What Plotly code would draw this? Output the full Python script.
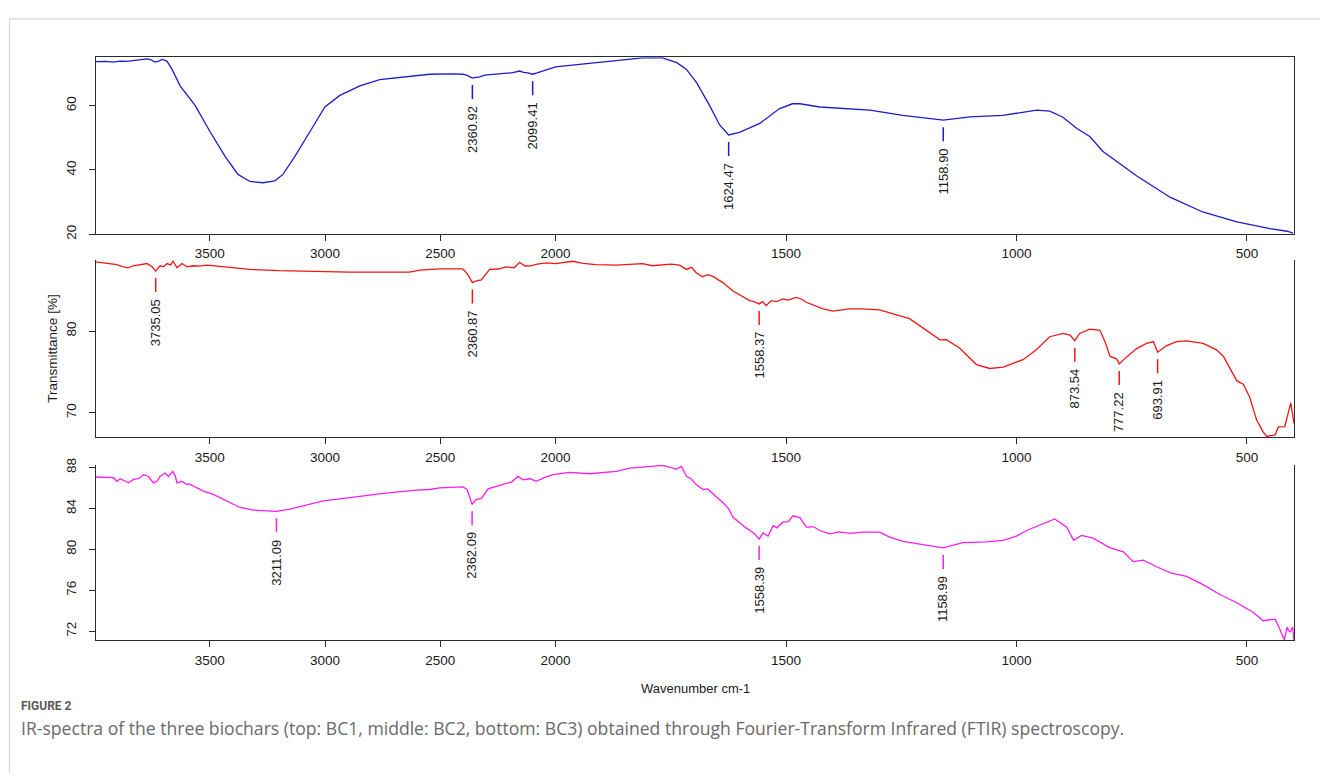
import numpy as np
import plotly.graph_objects as go

W, H = 1320, 778

# ---------------- spectra: wavenumber (cm-1) and transmittance (%) ----------------
bc1_wn = [3994, 3950, 3920, 3889, 3860, 3830, 3802, 3772, 3755, 3738, 3722, 3707, 3686,
          3664, 3629, 3600, 3564, 3499, 3434, 3378, 3326, 3270, 3218, 3183, 3131, 3066,
          3001, 2936, 2849, 2763, 2633, 2546, 2450, 2403, 2386, 2360.92, 2345, 2329, 2308,
          2250, 2186, 2156, 2139, 2120, 2099.41, 2080, 2056, 2000, 1948, 1876, 1811, 1768,
          1737, 1716, 1694, 1666, 1644, 1624.47, 1601, 1557, 1535, 1514, 1486, 1470, 1427,
          1368, 1318, 1247, 1158.90, 1101, 1030, 956, 928, 900, 869, 841, 813, 739, 667,
          596, 522, 450, 430, 413, 400]
bc1_t = [73.7, 73.8, 73.6, 73.9, 73.8, 74.1, 74.4, 74.6, 74.3, 73.6, 73.9, 74.4, 73.9,
         71.3, 66.2, 63.5, 60.1, 51.9, 44.2, 38.6, 36.4, 36.0, 36.6, 38.6, 44.2, 51.9,
         59.6, 63.2, 66.2, 68.1, 69.0, 69.8, 69.9, 69.8, 69.5, 68.6, 68.8, 69.0, 69.5,
         69.9, 70.3, 70.8, 70.4, 70.2, 69.8, 70.2, 70.8, 72.1, 72.9, 73.9, 74.9, 74.9,
         73.4, 71.3, 67.2, 60.1, 54.0, 50.9, 51.7, 54.5, 56.8, 59.1, 60.6, 60.6, 59.6,
         59.1, 58.6, 57.0, 55.5, 56.5, 57.0, 58.6, 58.3, 56.5, 52.9, 50.4, 45.8, 38.1, 31.5,
         26.9, 23.8, 21.7, 21.2, 20.9, 20.3]
bc1_peaks = [2360.92, 2099.41, 1624.47, 1158.90]

bc2_wn = [3994, 3950, 3904, 3880, 3855, 3833, 3803, 3772, 3751, 3735.05, 3716, 3700, 3686,
          3670, 3660, 3642, 3621, 3599, 3573, 3545, 3512, 3426, 3326, 3200, 3109, 2893,
          2676, 2633, 2589, 2503, 2403, 2381, 2360.87, 2344, 2322, 2286, 2250, 2214, 2180,
          2156, 2135, 2113, 2080, 2040, 2000, 1963, 1940, 1912, 1868, 1840, 1811, 1790,
          1768, 1750, 1731, 1716, 1705, 1695, 1681, 1670, 1659, 1648, 1637, 1616, 1579,
          1570, 1558.37, 1551, 1543, 1532, 1520, 1507, 1495, 1478, 1466, 1456, 1420, 1399,
          1380, 1362, 1334, 1297, 1232, 1203, 1166, 1152, 1123, 1087, 1058, 1029, 986, 957,
          928, 899, 884, 873.54, 863, 841, 819, 808, 797, 783, 777.22, 761, 740, 718, 703,
          693.91, 674, 653, 631, 595, 566, 551, 537, 522, 508, 494, 479, 465, 457, 445, 439,
          432, 418, 405, 398]
bc2_t = [88.47, 88.3, 88.15, 87.9, 87.75, 88.0, 88.15, 88.27, 87.87, 87.35, 88.0, 87.9, 88.27,
         88.1, 88.55, 87.75, 88.27, 87.87, 88.0, 87.95, 88.07, 87.87, 87.55, 87.4, 87.35, 87.23,
         87.23, 87.23, 87.47, 87.63, 87.63, 86.94, 85.94, 86.14, 86.27, 87.55, 87.6, 87.87, 87.75,
         88.43, 88.0, 87.95, 88.2, 88.35, 88.25, 88.55, 88.3, 88.15, 88.07, 88.2, 88.27, 88.0,
         88.07, 88.2, 88.07, 87.55, 87.8, 87.15, 86.66, 86.9, 86.7, 86.3, 85.94, 84.94, 83.73,
         83.6, 83.33, 83.61, 83.13, 83.73, 83.6, 83.93, 83.8, 84.13, 83.9, 83.53, 82.72, 82.45,
         82.6, 82.72, 82.72, 82.6, 81.52, 80.4, 78.92, 78.95, 77.9, 75.9, 75.42, 75.58, 76.5, 77.71,
         79.31, 79.71, 79.5, 78.83, 79.71, 80.24, 80.1, 78.71, 76.9, 76.6, 75.98, 76.84, 77.83, 78.5, 78.71,
         77.42, 78.23, 78.71, 78.8, 78.5, 77.7, 76.9, 75.5, 73.9, 73.5, 71.9, 69.1, 67.66, 67.1, 67.2, 67.3,
         68.26, 68.3, 71.2, 68.7]
bc2_peaks = [3735.05, 2360.87, 1558.37, 873.54, 777.22, 693.91]

bc3_wn = [3994, 3950, 3918, 3903, 3889, 3870, 3853, 3831, 3810, 3788, 3766, 3745, 3730,
          3716, 3694, 3680, 3661, 3650, 3643, 3622, 3600, 3590, 3571, 3550, 3528, 3485,
          3427, 3369, 3311, 3253, 3211.09, 3152, 3109, 3008, 2892, 2748, 2603, 2546, 2503,
          2402, 2384, 2362.09, 2344, 2322, 2293, 2250, 2214, 2190, 2163, 2142, 2110, 2084,
          2050, 2012, 1970, 1926, 1868, 1839, 1810, 1767, 1738, 1727, 1716, 1706, 1695,
          1680, 1670, 1658, 1648, 1637, 1625, 1615, 1586, 1568, 1558.39, 1550, 1539, 1528,
          1520, 1507, 1495, 1485, 1470, 1456, 1440, 1427, 1405, 1385, 1362, 1333, 1297,
          1275, 1246, 1203, 1158.99, 1116, 1065, 1029, 1000, 978, 942, 917, 891, 876, 859,
          834, 797, 768, 747, 725, 689, 664, 631, 595, 559, 522, 486, 465, 439, 432, 419,
          413, 407, 401, 398]
bc3_t = [87.07, 87.05, 87.0, 86.65, 86.9, 86.7, 86.5, 86.84, 86.9, 87.3, 87.12, 86.5, 86.65,
         87.12, 87.46, 87.12, 87.62, 87.2, 86.5, 86.65, 86.33, 86.4, 86.2, 86.0, 85.69, 85.37,
         84.73, 84.09, 83.83, 83.76, 83.72, 83.93, 84.19, 84.73, 85.05, 85.47, 85.79, 85.85, 86.0,
         86.11, 85.85, 84.41, 84.89, 84.95, 85.92, 86.2, 86.5, 86.6, 87.13, 86.8, 86.9, 86.65,
         87.0, 87.3, 87.52, 87.39, 87.62, 87.94, 88.04, 88.2, 87.85, 88.1, 87.13, 86.9, 86.33,
         85.85, 85.9, 85.37, 85.0, 84.57, 84.0, 83.13, 82.07, 81.52, 81.0, 81.6, 81.3, 82.32,
         82.1, 82.65, 82.7, 83.28, 83.1, 82.17, 82.2, 81.84, 81.52, 81.7, 81.55, 81.68, 81.68,
         81.2, 80.78, 80.46, 80.14, 80.66, 80.72, 80.88, 81.3, 81.84, 82.48, 82.97, 82.17, 80.88, 81.36,
         81.1, 80.14, 79.76, 78.8, 78.95, 78.15, 77.67, 77.35, 76.55, 75.58, 74.78, 73.82, 73.02, 73.18, 72.54, 71.16,
         72.38, 71.9, 72.38, 71.1]
bc3_peaks = [3211.09, 2362.09, 1558.39, 1158.99]

x_ticks = [3500, 3000, 2500, 2000, 1500, 1000, 500]
wn_span = [3994, 398]


def axis_pos(w):
    """Wavenumber axis with the usual FTIR scale change: 2x expansion below 2000 cm-1."""
    w = np.asarray(w, dtype=float)
    return np.where(w >= 2000, (4000.0 - w) / 2.0, 1000.0 + (2000.0 - w))


FONT = "Liberation Sans, Arial, sans-serif"
AXIS_COLOR = "#2a2a2a"
X_DOMAIN = [96 / W, 1294 / W]

panels = [
    dict(wn=bc1_wn, t=bc1_t, peaks=bc1_peaks, color="#1c1cd2",
         yrange=[20.0, 75.1], yticks=[20, 40, 60], top=51, bottom=230.7, boxed=True),
    dict(wn=bc2_wn, t=bc2_t, peaks=bc2_peaks, color="#f01616",
         yrange=[67.0, 88.7], yticks=[70, 80], top=257, bottom=437, boxed=False),
    dict(wn=bc3_wn, t=bc3_t, peaks=bc3_peaks, color="#fb1cf0",
         yrange=[71.1, 88.26], yticks=[72, 76, 80, 84, 88], top=465, bottom=643.3, boxed=False),
]

fig = go.Figure()
shapes, annotations = [], []
layout_axes = {}

for i, p in enumerate(panels):
    sfx = "" if i == 0 else str(i + 1)
    xa, ya = "x" + sfx, "y" + sfx
    wn = np.asarray(p["wn"], dtype=float)
    tr = np.asarray(p["t"], dtype=float)

    fig.add_trace(go.Scatter(
        x=axis_pos(wn), y=tr, mode="lines", xaxis=xa, yaxis=ya,
        line=dict(color=p["color"], width=1.3), showlegend=False, hoverinfo="skip"))

    layout_axes["xaxis" + sfx] = dict(
        domain=X_DOMAIN, anchor=ya, range=list(axis_pos(wn_span)),
        tickmode="array", tickvals=list(axis_pos(x_ticks)), ticktext=[str(v) for v in x_ticks],
        ticks="outside", ticklen=6, tickwidth=1, tickcolor=AXIS_COLOR,
        showline=True, linecolor=AXIS_COLOR, linewidth=1.2, mirror=p["boxed"],
        showgrid=False, zeroline=False, ticklabelstandoff=1,
        tickfont=dict(family=FONT, size=13.5, color="#1a1a1a"))
    layout_axes["yaxis" + sfx] = dict(
        domain=[1 - p["bottom"] / H, 1 - p["top"] / H], anchor=xa, range=p["yrange"],
        tickmode="array", tickvals=p["yticks"],
        ticks="outside", ticklen=6, tickwidth=1, tickcolor=AXIS_COLOR,
        showline=True, linecolor=AXIS_COLOR, linewidth=1.2, mirror=True,
        showgrid=False, zeroline=False, tickangle=-90, ticklabelstandoff=8,
        tickfont=dict(family=FONT, size=13.5, color="#1a1a1a"))

    # peak markers: short coloured tick under the band, rotated wavenumber label below it
    asc_w, asc_t = wn[::-1], tr[::-1]
    for w in p["peaks"]:
        xp = float(axis_pos(w))
        yv = float(np.interp(w, asc_w, asc_t))
        shapes.append(dict(type="line", xref=xa, yref=ya, x0=xp, x1=xp,
                           ysizemode="pixel", yanchor=yv, y0=-7, y1=-21,
                           line=dict(color=p["color"], width=1.5)))
        annotations.append(dict(x=xp, y=yv, xref=xa, yref=ya, text=f"{w:.2f}",
                                textangle=-90, showarrow=False, xanchor="center",
                                yanchor="top", yshift=-26,
                                font=dict(family=FONT, size=13, color="#1a1a1a")))


def paper_text(px, py, text, font, xanchor="center", angle=0):
    """Text placed at a pixel position of the figure, centred vertically."""
    return dict(x=px / W, y=1 - py / H, xref="paper", yref="paper", text=text,
                showarrow=False, xanchor=xanchor, yanchor="middle", textangle=angle,
                font=font)


# axis titles
annotations.append(paper_text(53, 347, "Transmittance [%]",
                              dict(family=FONT, size=13.5, color="#1a1a1a"), angle=-90))
annotations.append(paper_text(695, 692, "Wavenumber cm-1",
                              dict(family=FONT, size=13, color="#1a1a1a")))

# figure caption
annotations.append(paper_text(19, 710, "<b>FIGURE 2</b>",
                              dict(family="Roboto, sans-serif", size=12, color="#5a5a5a"),
                              xanchor="left"))
annotations.append(paper_text(19, 732,
                              "IR-spectra of the three biochars (top: BC1, middle: BC2, bottom: BC3) "
                              "obtained through Fourier-Transform Infrared (FTIR) spectroscopy.",
                              dict(family="Open Sans, sans-serif", size=17.6, color="#6a6a6a"),
                              xanchor="left"))

# card outline
shapes.append(dict(type="line", xref="paper", yref="paper", x0=9.5 / W, x1=9.5 / W,
                   y0=1 - 12 / H, y1=0, line=dict(color="#d6d6d6", width=1.2)))
shapes.append(dict(type="line", xref="paper", yref="paper", x0=9.5 / W, x1=1,
                   y0=1 - 12 / H, y1=1 - 12 / H, line=dict(color="#d6d6d6", width=1.2)))

fig.update_layout(
    width=W, height=H, margin=dict(l=0, r=0, t=0, b=0),
    paper_bgcolor="white", plot_bgcolor="white",
    shapes=shapes, annotations=annotations, showlegend=False,
    **layout_axes)

fig.write_html("out.html")
